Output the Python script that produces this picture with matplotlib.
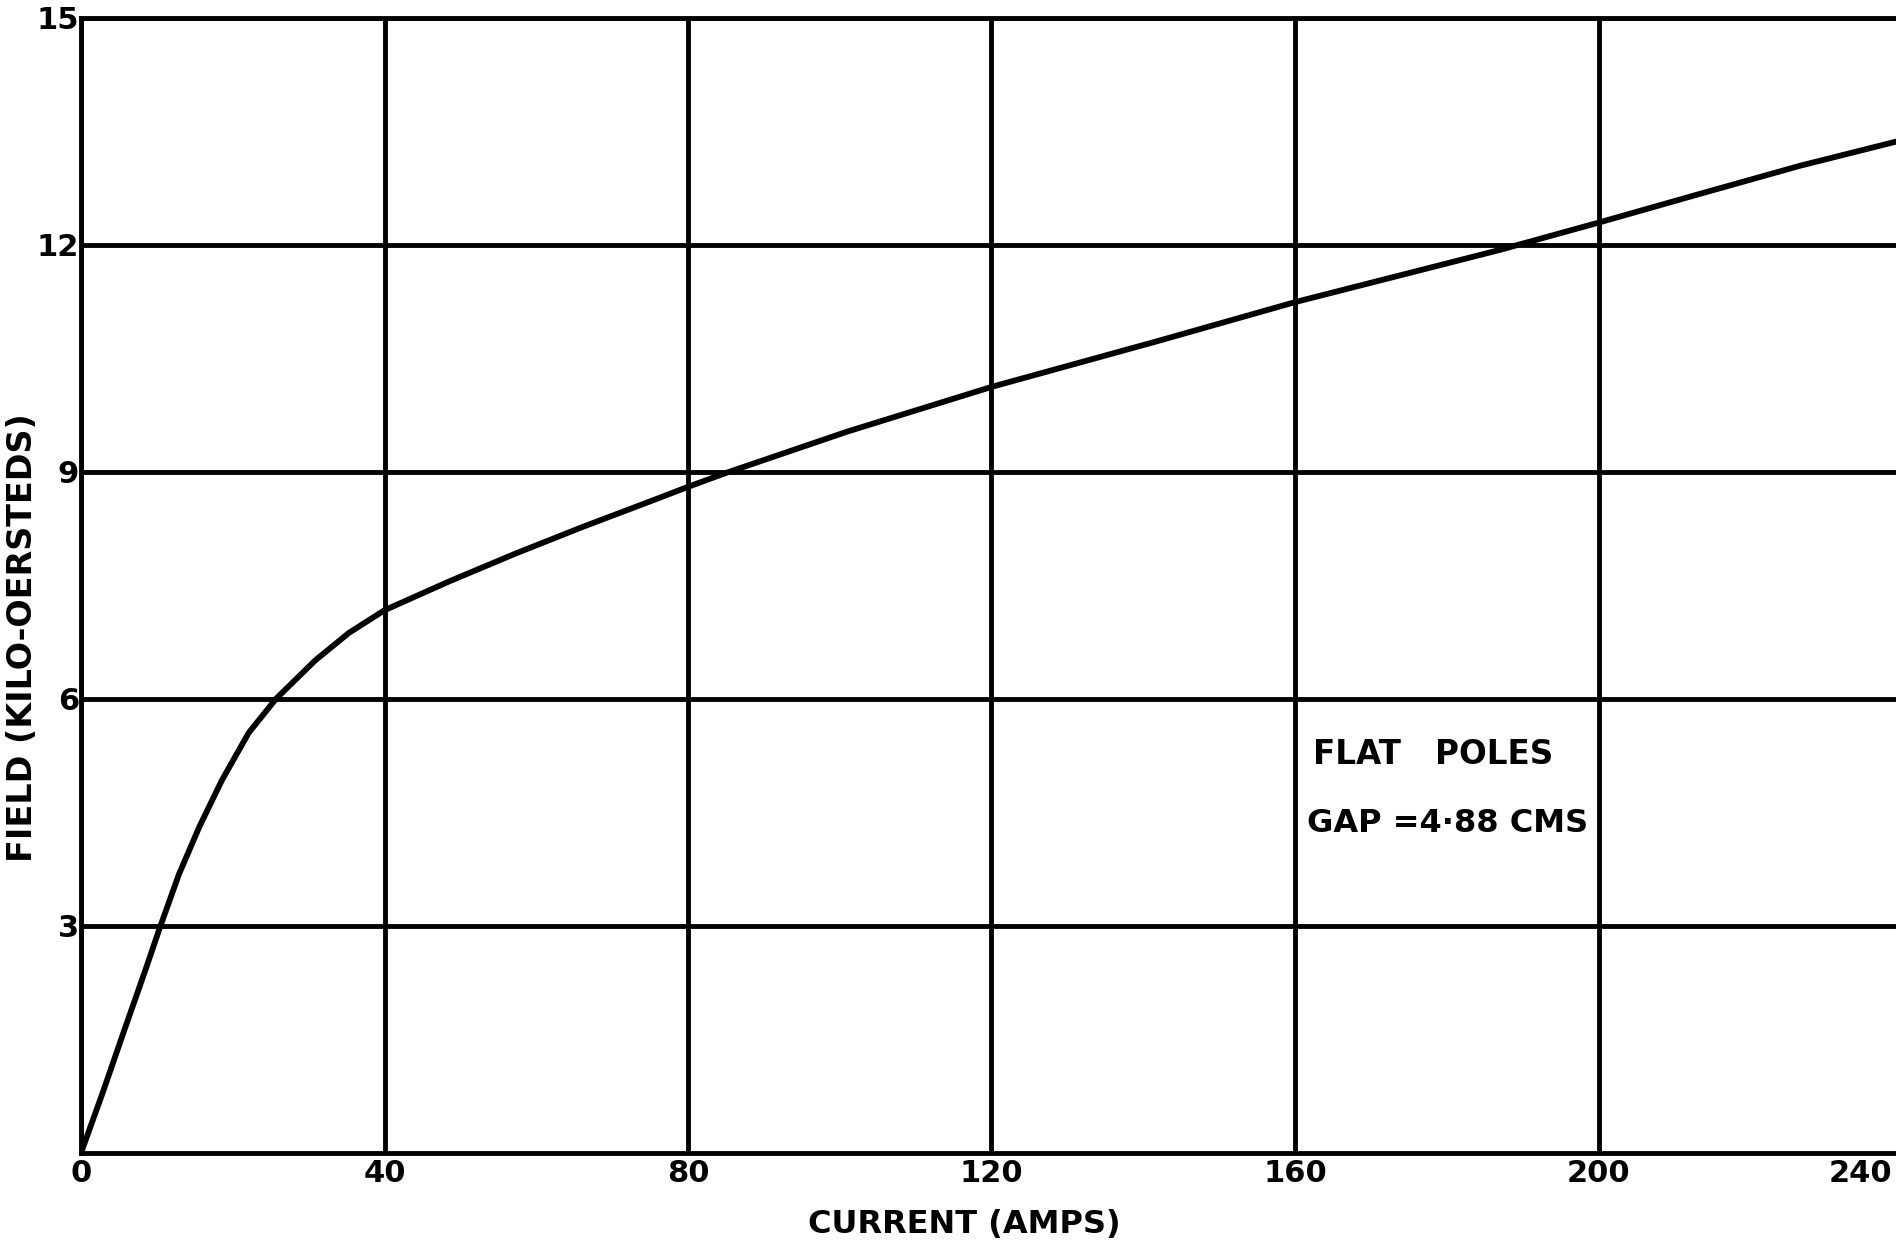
import matplotlib
matplotlib.use("Agg")
import matplotlib.pyplot as plt
import matplotlib.transforms as mtransforms

# magnetisation curve, flat poles, gap 4.88 cm
current = [0, 2.8, 5.7, 8.5, 10.3, 12.9, 15.6, 18.6, 22.1, 25.7, 30.9, 35.3,
           40, 48.5, 57.3, 66.1, 74.8, 80, 84.9, 101, 120, 141.7, 160, 187,
           200, 213, 226.5, 240]
field = [0, 0.78, 1.62, 2.42, 2.95, 3.68, 4.31, 4.93, 5.55, 6.0, 6.51, 6.87,
         7.17, 7.55, 7.92, 8.27, 8.60, 8.80, 8.98, 9.53, 10.12, 10.72, 11.24, 11.93,
         12.29, 12.66, 13.04, 13.38]

x_ticks = [0, 40, 80, 120, 160, 200, 240]
y_ticks = [3, 6, 9, 12, 15]

plt.rcParams['font.family'] = ['DejaVu Sans']
plt.rcParams['font.weight'] = 'bold'

W, H = 1896, 1241
fig = plt.figure(figsize=(W / 100, H / 100), dpi=100)
ax = fig.add_axes([81 / W, 88 / H, (1902 - 81) / W, (1153 - 17.5) / H])

lw = 3.5
ax.plot(current, field, color='black', lw=4.2, solid_capstyle='round',
        solid_joinstyle='round', zorder=3)

ax.set_xlim(0, 240)
ax.set_ylim(0, 15)
ax.set_xticks(x_ticks)
ax.set_yticks(y_ticks)
ax.grid(True, color='black', lw=lw)
ax.set_axisbelow(True)
for s in ['left', 'bottom', 'top']:
    ax.spines[s].set_linewidth(lw)
ax.spines['right'].set_visible(False)

ax.tick_params(axis='x', length=0, pad=4.5, labelsize=22)
ax.tick_params(axis='y', length=0, pad=1.5, labelsize=22)
ax.set_xticklabels([str(v) for v in x_ticks], fontweight='bold')
ax.set_yticklabels([str(v) for v in y_ticks], fontweight='bold')

# last current label sits inside the page edge
last = ax.get_xticklabels()[-1]
last.set_transform(last.get_transform() +
                   mtransforms.ScaledTranslation(-42 / 100, 0, fig.dpi_scale_trans))

fig.text(964 / W, 1 - 1224 / H, 'CURRENT (AMPS)', ha='center', va='center',
         fontsize=23, fontweight='bold')
fig.text(22.5 / W, 1 - 638 / H, 'FIELD (KILO-OERSTEDS)', ha='center', va='center',
         rotation=90, fontsize=24, fontweight='bold')

fig.text(1313 / W, 1 - 755 / H, 'FLAT   POLES', ha='left', va='center',
         fontsize=23.5, fontweight='bold')
fig.text(1307 / W, 1 - 823 / H, 'GAP =4·88 CMS', ha='left', va='center',
         fontsize=23, fontweight='bold')

fig.savefig('out.png', dpi=100, facecolor='white')
